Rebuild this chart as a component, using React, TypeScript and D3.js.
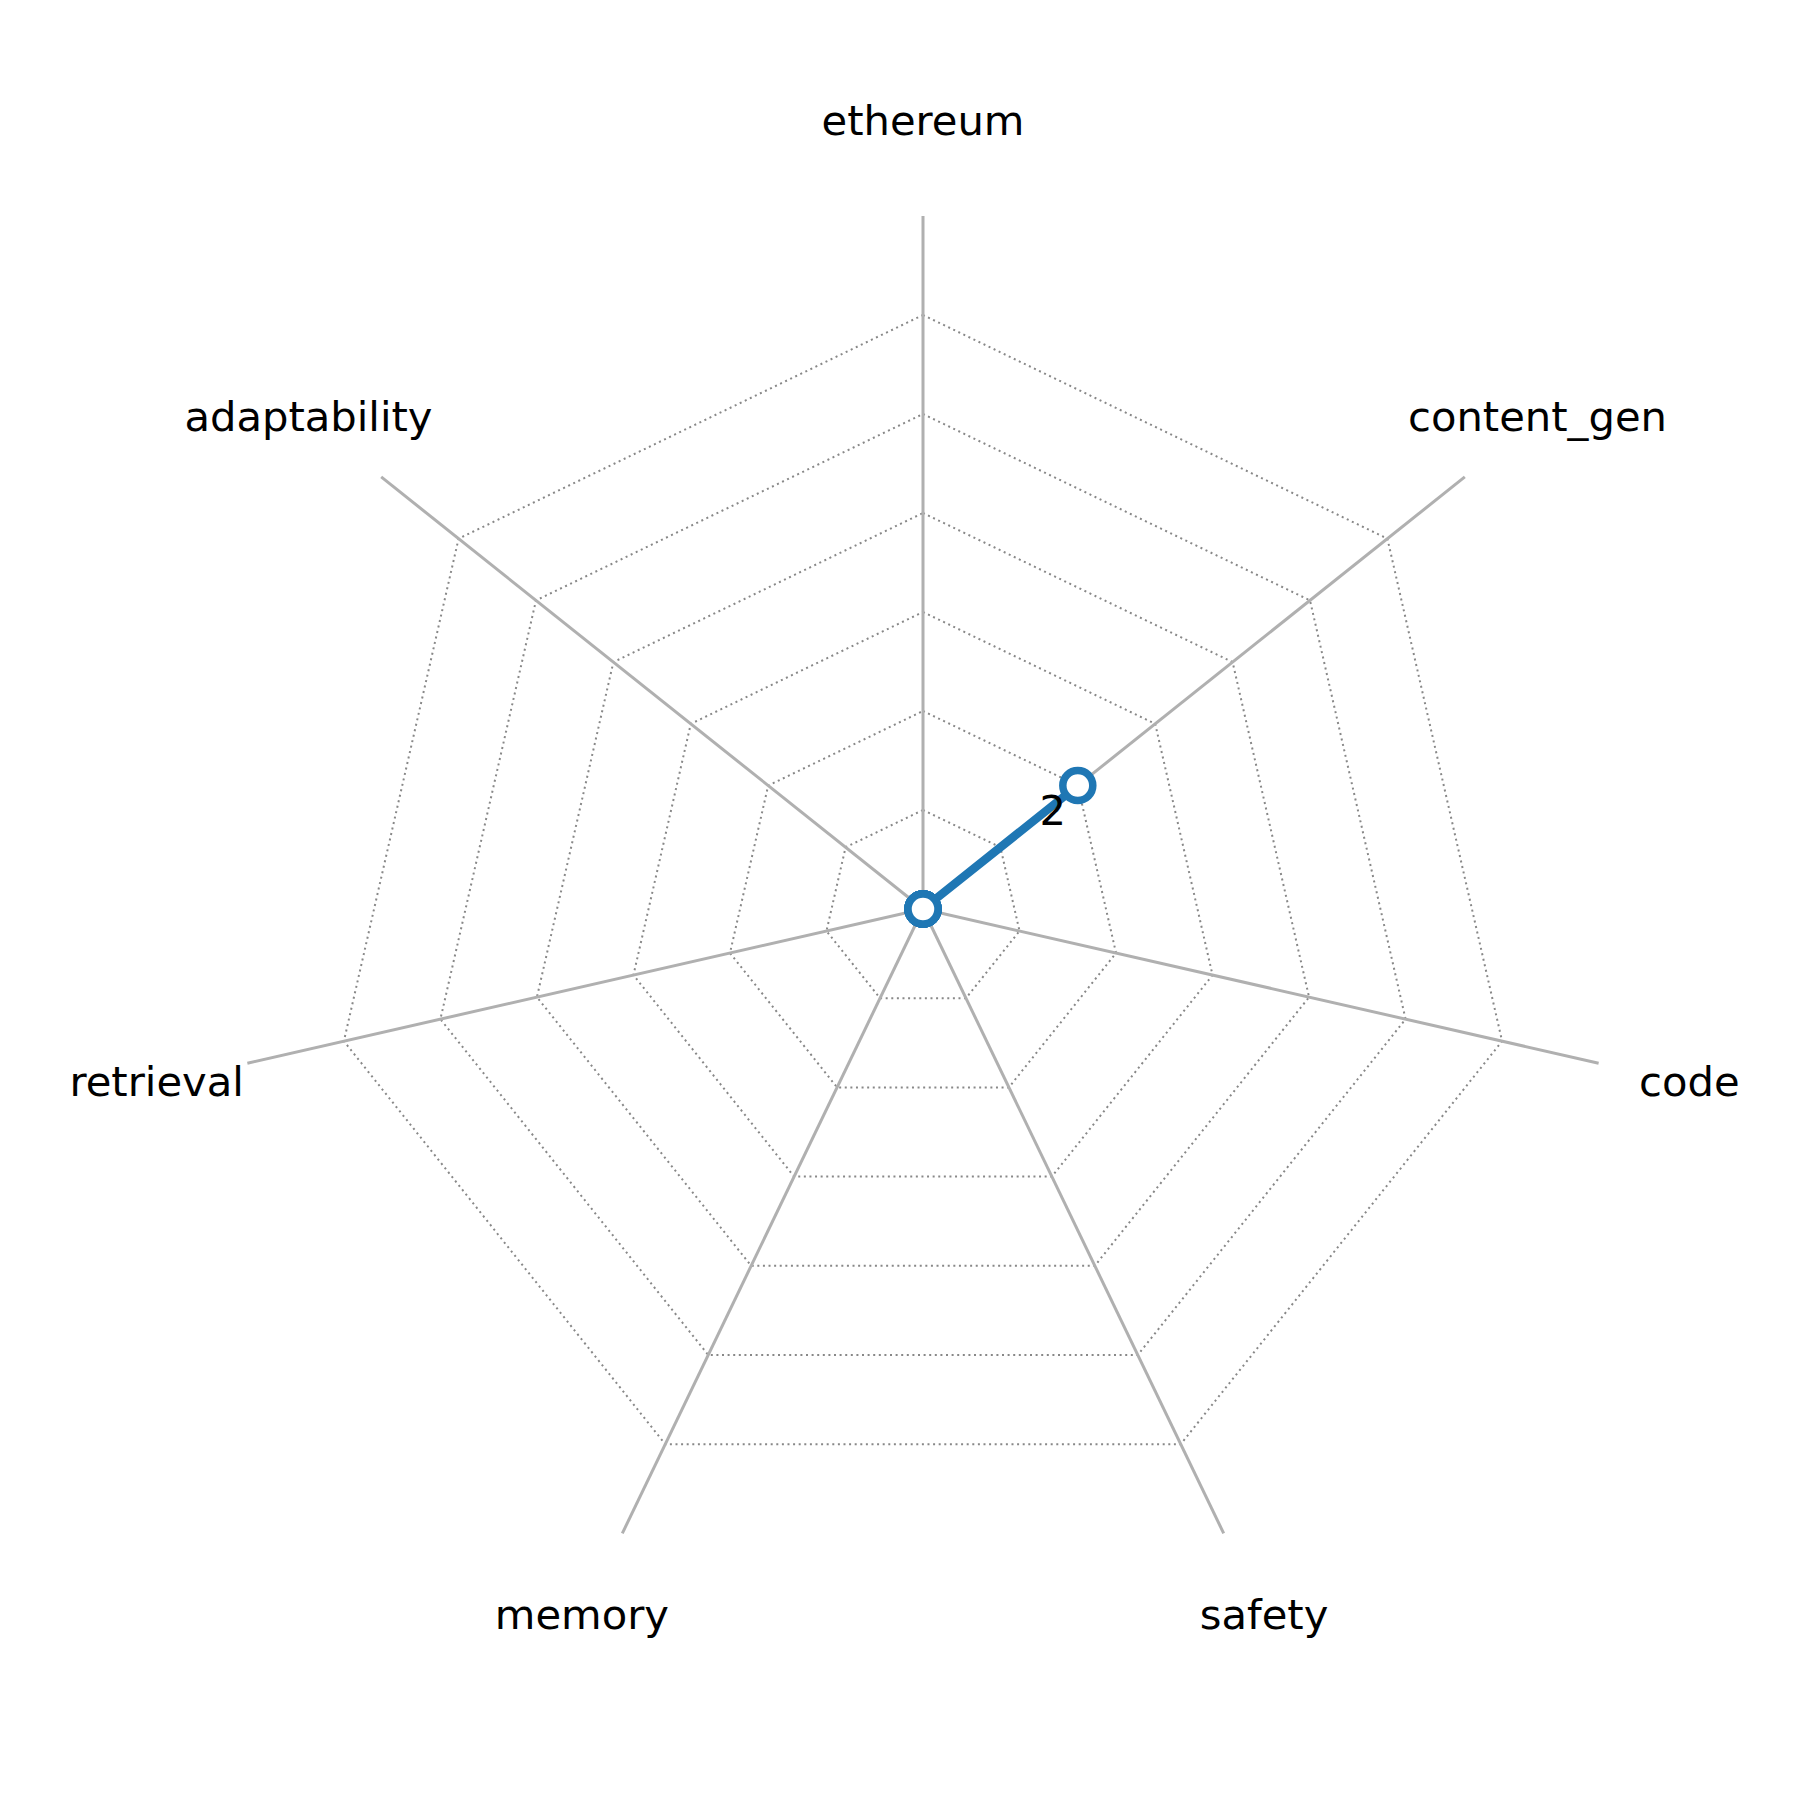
import React from "react";
import * as d3 from "d3";

const categories = ["ethereum", "content_gen", "code", "safety", "memory", "retrieval", "adaptability"];
const values = [0, 2, 0, 0, 0, 0, 0];
const gridLevels = [1, 2, 3, 4, 5, 6];
const maxValue = 7;
const annotations = [{ index: 1, text: "2" }];

export default function App() {
  const W = 1800, H = 1800;
  const cx = 923, cy = 909;
  const R = 693;
  const r = d3.scaleLinear().domain([0, maxValue]).range([0, R]);
  const angle = d3.scaleLinear().domain([0, categories.length]).range([0, 2 * Math.PI]);
  const pt = (i: number, v: number): [number, number] => {
    const a = angle(i);
    return [cx + r(v) * Math.sin(a), cy - r(v) * Math.cos(a)];
  };
  const lineGen = d3.line<[number, number]>().curve(d3.curveLinearClosed);
  const pts = values.map((v, i) => pt(i, v));
  const labelR = 786;
  const font = "'DejaVu Sans', sans-serif";

  return (
    <svg width={W} height={H} style={{ display: "block", position: "absolute", left: 0, top: 0, background: "#fff" }}>
      <rect x={0} y={0} width={W} height={H} fill="#fff" />
      {gridLevels.map((lv) => (
        <path
          key={lv}
          d={lineGen(categories.map((_, i) => pt(i, lv))) || ""}
          fill="none"
          stroke="#888"
          strokeWidth={2}
          strokeDasharray="2,3.6"
        />
      ))}
      {categories.map((c, i) => {
        const [x, y] = pt(i, maxValue);
        return <line key={c} x1={cx} y1={cy} x2={x} y2={y} stroke="#b0b0b0" strokeWidth={3} />;
      })}
      {categories.map((c, i) => {
        const a = angle(i);
        const x = cx + labelR * Math.sin(a);
        const y = cy - labelR * Math.cos(a);
        return (
          <text key={c} x={x} y={y} dy="0.28em" textAnchor="middle" fontFamily={font} fontSize={41.7} fill="#000">
            {c}
          </text>
        );
      })}
      <path d={lineGen(pts) || ""} fill="none" stroke="#1f77b4" strokeWidth={8.5} strokeLinejoin="round" />
      {pts.map((p, i) => (
        <circle key={i} cx={p[0]} cy={p[1]} r={15} fill="#fff" stroke="#1f77b4" strokeWidth={7.5} />
      ))}
      {annotations.map((an) => {
        const [x, y] = pt(an.index, values[an.index]);
        return (
          <text key={an.index} x={x - 25} y={y + 39} textAnchor="middle" fontFamily={font} fontSize={41.7} fill="#000">
            {an.text}
          </text>
        );
      })}
    </svg>
  );
}
